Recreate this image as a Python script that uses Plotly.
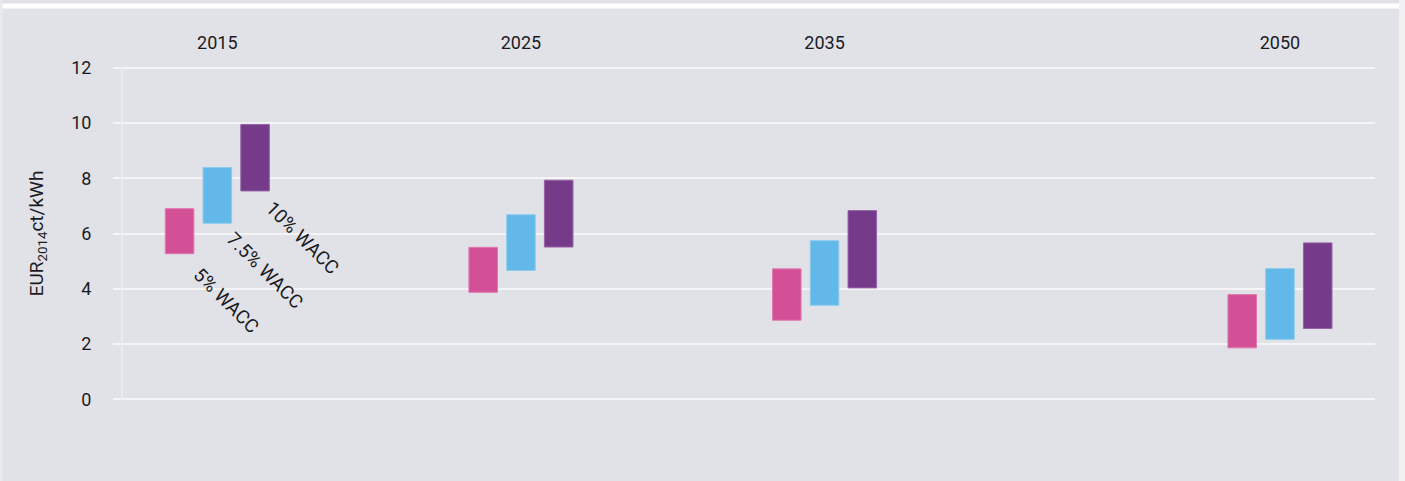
import plotly.graph_objects as go

# Levelised cost ranges (EUR2014 ct/kWh) by year and cost of capital
years = [2015, 2025, 2035, 2050]
series_names = ["5% WACC", "7.5% WACC", "10% WACC"]
low_5 = [5.27, 3.87, 2.86, 1.86]
high_5 = [6.90, 5.50, 4.72, 3.79]
low_75 = [6.37, 4.66, 3.40, 2.17]
high_75 = [8.39, 6.68, 5.74, 4.73]
low_10 = [7.54, 5.51, 4.03, 2.56]
high_10 = [9.95, 7.93, 6.83, 5.66]
y_ticks = [0, 2, 4, 6, 8, 10, 12]

colors = ["#d35096", "#62b8e8", "#763a8a"]
edges = ["#e07ab0", "#8ccbee", "#9665a6"]
lows = [low_5, low_75, low_10]
highs = [high_5, high_75, high_10]

W, H = 1405, 481
ML, MR, MT, MB = 122, 30, 65, 79
BG = "#e1e2e7"
GRID = "#f5f5f7"
FONT = "Roboto, 'Noto Sans', sans-serif"
INK = "#1b1b1f"
FS = 18

fig = go.Figure()
for name, lo, hi, c, e in zip(series_names, lows, highs, colors, edges):
    fig.add_trace(go.Bar(
        x=years,
        y=[h - l for l, h in zip(lo, hi)],
        base=lo,
        name=name,
        marker=dict(color=c, line=dict(color=e, width=1)),
        hoverinfo="skip",
    ))

# Diagonal series labels next to the first group
label_pos = [(2015.29, 3.58), (2016.57, 4.67), (2017.79, 5.86)]
for name, (lx, ly) in zip(series_names, label_pos):
    fig.add_annotation(x=lx, y=ly, xref="x", yref="y", text=name,
                       showarrow=False, textangle=45,
                       font=dict(family=FONT, size=19, color=INK))

# Page frame: white band along the top and thin light edges
pw = W - ML - MR
ph = H - MT - MB
def px_x(p):
    return (p - ML) / pw
def px_y(p):
    return (H - MB - p) / ph

fig.add_shape(type="rect", xref="paper", yref="paper", layer="below",
              x0=px_x(0), x1=px_x(W), y0=px_y(3.5), y1=px_y(8.5),
              fillcolor="white", line_width=0)
fig.add_shape(type="rect", xref="paper", yref="paper", layer="below",
              x0=px_x(1399), x1=px_x(W), y0=px_y(0), y1=px_y(H),
              fillcolor="#f1f1f4", line_width=0)
fig.add_shape(type="rect", xref="paper", yref="paper", layer="below",
              x0=px_x(0), x1=px_x(2.5), y0=px_y(0), y1=px_y(H),
              fillcolor="#e9eaee", line_width=0)

fig.update_layout(
    width=W, height=H,
    margin=dict(l=ML, r=MR, t=MT, b=MB, pad=0),
    paper_bgcolor=BG, plot_bgcolor="rgba(0,0,0,0)",
    barmode="group", bargap=0.627, bargroupgap=0.243,
    showlegend=False,
    font=dict(family=FONT, size=FS, color=INK),
)
fig.update_xaxes(
    range=[2011.86, 2053.13], side="top",
    tickmode="array", tickvals=years, ticktext=[str(y) for y in years],
    showgrid=False, zeroline=False, showline=False,
    ticks="", ticklabelstandoff=11,
    tickfont=dict(family=FONT, size=FS, color=INK),
)
fig.update_yaxes(
    range=[-0.1, 12.1], tickmode="array", tickvals=y_ticks,
    showgrid=True, gridcolor=GRID, gridwidth=2,
    zeroline=True, zerolinecolor=GRID, zerolinewidth=2,
    showline=False,
    ticks="outside", ticklen=8, tickcolor=GRID, tickwidth=2,
    ticklabelstandoff=18,
    tickfont=dict(family=FONT, size=FS, color=INK),
    title=dict(text="EUR<sub>2014</sub>ct/kWh", standoff=22,
               font=dict(family=FONT, size=19, color=INK)),
)

# Vertical axis line spanning the 0-12 tick range
fig.add_shape(type="line", xref="paper", yref="y", layer="below",
              x0=0, x1=0, y0=0, y1=12, line=dict(color=GRID, width=1))

fig.write_html("out.html")
